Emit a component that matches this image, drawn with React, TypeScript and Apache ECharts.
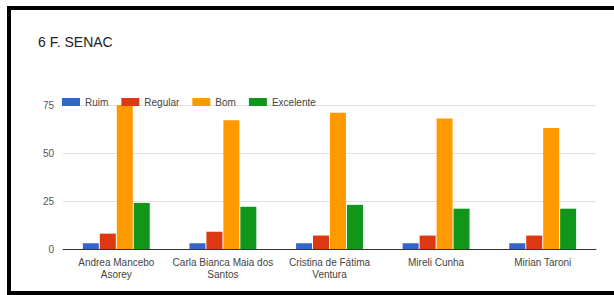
import React, { useEffect, useRef } from "react";
import * as echarts from "echarts";

const categories = [
  "Andrea Mancebo\nAsorey",
  "Carla Bianca Maia dos\nSantos",
  "Cristina de Fátima\nVentura",
  "Mireli Cunha",
  "Mirian Taroni",
];
const ruim = [3, 3, 3, 3, 3];
const regular = [8, 9, 7, 7, 7];
const bom = [75, 67, 71, 68, 63];
const excelente = [24, 22, 23, 21, 21];
const seriesNames = ["Ruim", "Regular", "Bom", "Excelente"];
const colors = ["#3366cc", "#dc3912", "#ff9900", "#109618"];

const FONT = "'Liberation Sans', Arial, sans-serif";

export default function App() {
  const ref = useRef<HTMLDivElement>(null);
  useEffect(() => {
    if (!ref.current) return;
    const chart = echarts.init(ref.current, undefined, { renderer: "svg" });
    const data = [ruim, regular, bom, excelente];
    chart.setOption({
      animation: false,
      backgroundColor: "#ffffff",
      textStyle: { fontFamily: FONT },
      title: {
        text: "6 F. SENAC",
        left: 33,
        top: 30,
        textStyle: { fontSize: 14, fontWeight: "normal", color: "#222", fontFamily: FONT },
      },
      legend: {
        left: 57,
        top: 92,
        itemWidth: 18,
        itemHeight: 8,
        itemGap: 13,
        icon: "rect",
        textStyle: { fontSize: 10, color: "#444", fontFamily: FONT },
        data: seriesNames,
      },
      grid: { left: 63, right: 18, top: 105, bottom: 46 },
      xAxis: {
        type: "category",
        data: categories,
        axisTick: { show: false },
        axisLine: { lineStyle: { color: "#333", width: 1 } },
        axisLabel: { fontSize: 10, color: "#444", lineHeight: 12, margin: 7, interval: 0, fontFamily: FONT },
      },
      yAxis: {
        type: "value",
        min: 0,
        max: 75,
        interval: 25,
        axisLabel: { fontSize: 10, color: "#555", margin: 9, fontFamily: FONT },
        splitLine: { lineStyle: { color: "#e0e0e0" } },
        axisLine: { show: false },
        axisTick: { show: false },
      },
      series: seriesNames.map((name, i) => ({
        name,
        type: "bar",
        data: data[i],
        barWidth: 16,
        barGap: "6%",
        itemStyle: { color: colors[i] },
      })),
      graphic: [
        { type: "rect", shape: { x: 7, y: 6, width: 607, height: 4 }, style: { fill: "#000" } },
        { type: "rect", shape: { x: 7, y: 6, width: 4, height: 289 }, style: { fill: "#000" } },
        { type: "rect", shape: { x: 7, y: 291, width: 607, height: 4 }, style: { fill: "#000" } },
      ],
    });
    return () => chart.dispose();
  }, []);
  return (
    <div
      ref={ref}
      style={{ position: "fixed", left: 0, top: 0, width: 614, height: 295 }}
    />
  );
}
